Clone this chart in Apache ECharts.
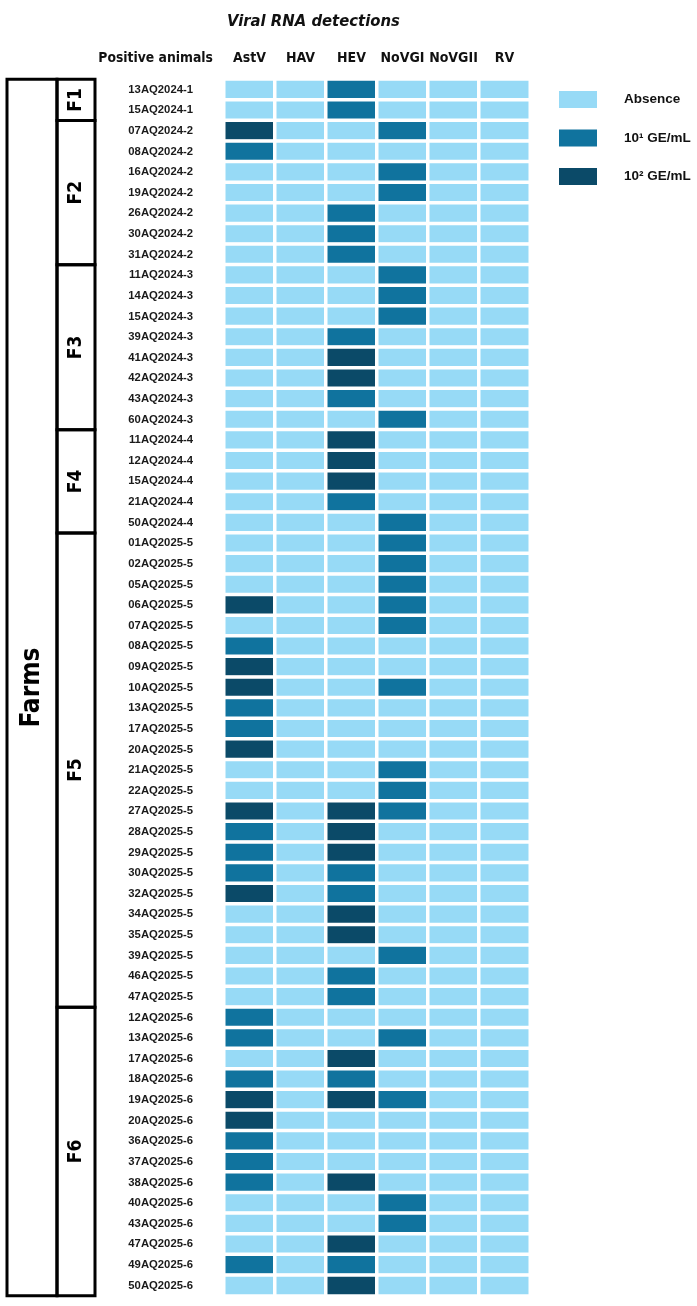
<!DOCTYPE html>
<html>
<head>
<meta charset="utf-8">
<script src="https://cdn.jsdelivr.net/npm/echarts@6/dist/echarts.min.js"></script>
<style>
html,body{margin:0;padding:0;background:#fff}
#main{width:697px;height:1306px}
</style>
</head>
<body>
<div id="main"></div>
<script>
// rows, grouped by farm
var farms = ['F1', 'F2', 'F3', 'F4', 'F5', 'F6'];
var farmSizes = [2, 7, 8, 5, 23, 14];
var animals = [
  '13AQ2024-1', '15AQ2024-1',
  '07AQ2024-2', '08AQ2024-2', '16AQ2024-2', '19AQ2024-2', '26AQ2024-2', '30AQ2024-2', '31AQ2024-2',
  '11AQ2024-3', '14AQ2024-3', '15AQ2024-3', '39AQ2024-3', '41AQ2024-3', '42AQ2024-3', '43AQ2024-3', '60AQ2024-3',
  '11AQ2024-4', '12AQ2024-4', '15AQ2024-4', '21AQ2024-4', '50AQ2024-4',
  '01AQ2025-5', '02AQ2025-5', '05AQ2025-5', '06AQ2025-5', '07AQ2025-5', '08AQ2025-5', '09AQ2025-5', '10AQ2025-5',
  '13AQ2025-5', '17AQ2025-5', '20AQ2025-5', '21AQ2025-5', '22AQ2025-5', '27AQ2025-5', '28AQ2025-5', '29AQ2025-5',
  '30AQ2025-5', '32AQ2025-5', '34AQ2025-5', '35AQ2025-5', '39AQ2025-5', '46AQ2025-5', '47AQ2025-5',
  '12AQ2025-6', '13AQ2025-6', '17AQ2025-6', '18AQ2025-6', '19AQ2025-6', '20AQ2025-6', '36AQ2025-6',
  '37AQ2025-6', '38AQ2025-6', '40AQ2025-6', '43AQ2025-6', '47AQ2025-6', '49AQ2025-6', '50AQ2025-6'
];
var viruses = ['AstV', 'HAV', 'HEV', 'NoVGI', 'NoVGII', 'RV'];

// 0 = absence, 1 = 10^1 GE/mL, 2 = 10^2 GE/mL
var astv = [0, 0,
  2, 1, 0, 0, 0, 0, 0,
  0, 0, 0, 0, 0, 0, 0, 0,
  0, 0, 0, 0, 0,
  0, 0, 0, 2, 0, 1, 2, 2, 1, 1, 2, 0, 0, 2, 1, 1, 1, 2, 0, 0, 0, 0, 0,
  1, 1, 0, 1, 2, 2, 1, 1, 1, 0, 0, 0, 1, 0];
var hav = [0, 0,
  0, 0, 0, 0, 0, 0, 0,
  0, 0, 0, 0, 0, 0, 0, 0,
  0, 0, 0, 0, 0,
  0, 0, 0, 0, 0, 0, 0, 0, 0, 0, 0, 0, 0, 0, 0, 0, 0, 0, 0, 0, 0, 0, 0,
  0, 0, 0, 0, 0, 0, 0, 0, 0, 0, 0, 0, 0, 0];
var hev = [1, 1,
  0, 0, 0, 0, 1, 1, 1,
  0, 0, 0, 1, 2, 2, 1, 0,
  2, 2, 2, 1, 0,
  0, 0, 0, 0, 0, 0, 0, 0, 0, 0, 0, 0, 0, 2, 2, 2, 1, 1, 2, 2, 0, 1, 1,
  0, 0, 2, 1, 2, 0, 0, 0, 2, 0, 0, 2, 1, 2];
var novgi = [0, 0,
  1, 0, 1, 1, 0, 0, 0,
  1, 1, 1, 0, 0, 0, 0, 1,
  0, 0, 0, 0, 1,
  1, 1, 1, 1, 1, 0, 0, 1, 0, 0, 0, 1, 1, 1, 0, 0, 0, 0, 0, 0, 1, 0, 0,
  0, 1, 0, 0, 1, 0, 0, 0, 0, 1, 1, 0, 0, 0];
var novgii = [0, 0,
  0, 0, 0, 0, 0, 0, 0,
  0, 0, 0, 0, 0, 0, 0, 0,
  0, 0, 0, 0, 0,
  0, 0, 0, 0, 0, 0, 0, 0, 0, 0, 0, 0, 0, 0, 0, 0, 0, 0, 0, 0, 0, 0, 0,
  0, 0, 0, 0, 0, 0, 0, 0, 0, 0, 0, 0, 0, 0];
var rv = [0, 0,
  0, 0, 0, 0, 0, 0, 0,
  0, 0, 0, 0, 0, 0, 0, 0,
  0, 0, 0, 0, 0,
  0, 0, 0, 0, 0, 0, 0, 0, 0, 0, 0, 0, 0, 0, 0, 0, 0, 0, 0, 0, 0, 0, 0,
  0, 0, 0, 0, 0, 0, 0, 0, 0, 0, 0, 0, 0, 0];

var levelLabels = ['Absence', '10\u00b9 GE/mL', '10\u00b2 GE/mL'];
var levelColors = ['#97daf6', '#10739e', '#0b4a68'];

var narrow = "'DejaVu Sans Condensed', 'Liberation Sans', sans-serif";
var sans = "'Liberation Sans', Arial, sans-serif";

var columns = [astv, hav, hev, novgi, novgii, rv];
var cells = [];
columns.forEach(function (col, x) {
  col.forEach(function (v, y) { cells.push([x, y, v]); });
});

var chart = echarts.init(document.getElementById('main'));
chart.setOption({
  animation: false,
  title: {
    text: 'Viral RNA detections',
    left: 222, top: 8,
    textStyle: {fontFamily: narrow, fontSize: 16.5, fontWeight: 'bold', fontStyle: 'italic', color: '#111'}
  },
  grid: {left: 224, right: 167, top: 79.3, bottom: 10.2},
  xAxis: {
    type: 'category', position: 'top', data: viruses,
    axisLine: {show: false}, axisTick: {show: false}, splitArea: {show: false},
    axisLabel: {interval: 0, margin: 14, fontFamily: narrow, fontSize: 14, fontWeight: 'bold', color: '#111'}
  },
  yAxis: {
    type: 'category', inverse: true, data: animals,
    name: 'Positive animals', nameLocation: 'start', nameGap: 14,
    nameTextStyle: {fontFamily: narrow, fontSize: 13.8, fontWeight: 'bold', color: '#111',
      align: 'right', verticalAlign: 'bottom', padding: [0, 11, 0, 0]},
    axisLine: {show: false}, axisTick: {show: false}, splitArea: {show: false},
    axisLabel: {interval: 0, margin: 31, fontFamily: sans, fontSize: 11.3, fontWeight: 'bold', color: '#1a1a1a'}
  },
  visualMap: {
    type: 'piecewise', orient: 'vertical', inverse: true, align: 'left',
    left: 544, top: 76,
    itemWidth: 38, itemHeight: 17, itemGap: 21.5, textGap: 27,
    itemSymbol: 'rect', selectedMode: false,
    pieces: levelLabels.map(function (t, i) { return {value: i, label: t, color: levelColors[i]}; }),
    textStyle: {fontFamily: sans, fontSize: 13.5, fontWeight: 'bold', color: '#111'}
  },
  series: [{
    type: 'heatmap',
    data: cells,
    itemStyle: {borderColor: '#fff', borderWidth: 3.5},
    emphasis: {disabled: true}
  }]
});

// farm brackets on the left, placed from the y axis bands
function drawFarms() {
  var c0 = chart.convertToPixel({yAxisIndex: 0}, animals[0]);
  var c1 = chart.convertToPixel({yAxisIndex: 0}, animals[1]);
  var band = c1 - c0;
  var top = c0 - band / 2;
  var bottom = top + band * animals.length;
  var els = [{
    type: 'rect', shape: {x: 7, y: top, width: 50, height: bottom - top},
    style: {fill: 'none', stroke: '#000', lineWidth: 3}
  }, {
    type: 'text', x: 32, y: (top + bottom) / 2, rotation: Math.PI / 2,
    style: {text: 'Farms', align: 'center', verticalAlign: 'middle', fill: '#000',
      font: 'bold 26px ' + narrow}
  }];
  var start = 0;
  farms.forEach(function (f, i) {
    var y0 = top + band * start;
    var y1 = top + band * (start + farmSizes[i]);
    els.push({
      type: 'rect', shape: {x: 57, y: y0, width: 38, height: y1 - y0},
      style: {fill: 'none', stroke: '#000', lineWidth: 3}
    });
    els.push({
      type: 'text', x: 76, y: (y0 + y1) / 2, rotation: Math.PI / 2,
      style: {text: f, align: 'center', verticalAlign: 'middle', fill: '#000',
        font: 'bold 19px ' + narrow}
    });
    start += farmSizes[i];
  });
  chart.setOption({graphic: els});
}
drawFarms();
</script>
</body>
</html>
